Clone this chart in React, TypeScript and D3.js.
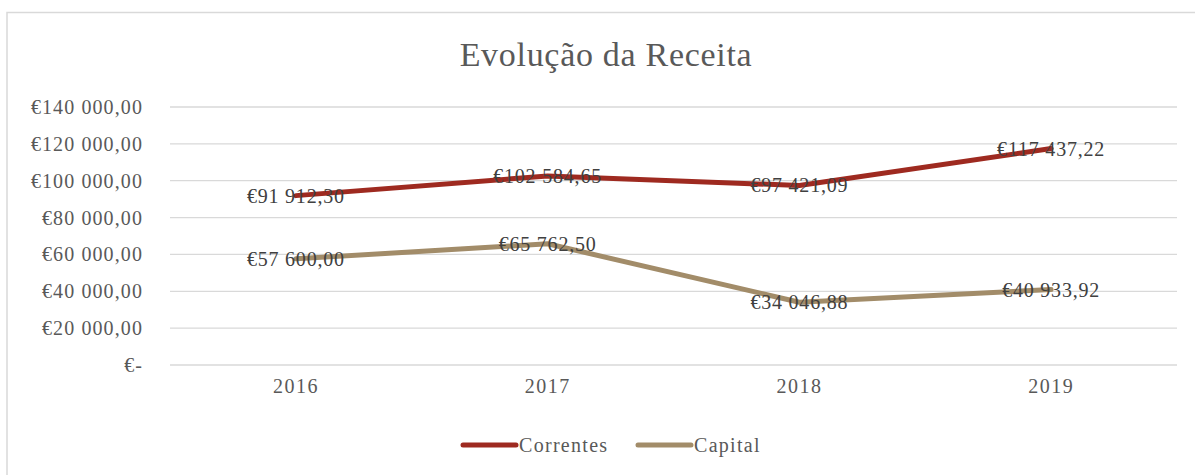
import React from "react";
import * as d3 from "d3";

const years = ["2016", "2017", "2018", "2019"];
const correntes = [91912.3, 102584.65, 97421.09, 117437.22];
const capital = [57600.0, 65762.5, 34046.88, 40933.92];
const yTicks = [0, 20000, 40000, 60000, 80000, 100000, 120000, 140000];
const seriesNames = ["Correntes", "Capital"];
const seriesColors = ["#9E2A20", "#A28C69"];

const W = 1195;
const H = 475;
const FONT = "'Liberation Serif', 'DejaVu Serif', serif";

function fmtEuro(v: number): string {
  if (v === 0) return "€-";
  const fixed = v.toFixed(2);
  const [intPart, dec] = fixed.split(".");
  const grouped = intPart.replace(/\B(?=(\d{3})+(?!\d))/g, " ");
  return `€${grouped},${dec}`;
}

export default function App() {
  const x = d3.scaleBand<string>().domain(years).range([170, 1177]);
  const y = d3.scaleLinear().domain([0, 140000]).range([365, 107]);
  const cx = (d: string) => (x(d) as number) + x.bandwidth() / 2;
  const line = d3
    .line<number>()
    .x((_, i) => cx(years[i]))
    .y((v) => y(v));
  const series = [correntes, capital];

  return (
    <svg
      width={W}
      height={H}
      style={{ position: "absolute", left: 0, top: 0, background: "#fff" }}
      fontFamily={FONT}
    >
      <rect x={0} y={0} width={W} height={H} fill="#fff" />
      <path d={`M7,${H + 5} V12.5 H${W + 5}`} fill="none" stroke="#d9d9d9" strokeWidth={1.5} />
      <text x={606} y={66} textAnchor="middle" fontSize={34} letterSpacing={0.7} fill="#595959">
        Evolução da Receita
      </text>
      {yTicks.map((t) => (
        <g key={t}>
          <line x1={170} x2={1177} y1={y(t)} y2={y(t)} stroke="#d9d9d9" strokeWidth={1.3} />
          <text
            x={143}
            y={y(t)}
            dy="0.35em"
            textAnchor="end"
            fontSize={20}
            letterSpacing={1.1}
            fill="#595959"
          >
            {fmtEuro(t)}
          </text>
        </g>
      ))}
      {years.map((yr) => (
        <text key={yr} x={cx(yr)} y={393} textAnchor="middle" fontSize={20} letterSpacing={1.5} fill="#595959">
          {yr}
        </text>
      ))}
      {series.map((s, i) => (
        <path
          key={i}
          d={line(s) as string}
          fill="none"
          stroke={seriesColors[i]}
          strokeWidth={5}
          strokeLinecap="round"
          strokeLinejoin="round"
        />
      ))}
      {series.map((s, i) =>
        s.map((v, j) => (
          <text
            key={`${i}-${j}`}
            x={cx(years[j])}
            y={y(v)}
            dy="0.35em"
            textAnchor="middle"
            fontSize={20}
            letterSpacing={0.8}
            fill="#404040"
          >
            {fmtEuro(v)}
          </text>
        ))
      )}
      {seriesNames.map((n, i) => {
        const lx = i === 0 ? 463 : 638;
        return (
          <g key={n}>
            <line
              x1={lx}
              x2={lx + 53}
              y1={445}
              y2={445}
              stroke={seriesColors[i]}
              strokeWidth={5}
              strokeLinecap="round"
            />
            <text x={lx + 56} y={445} dy="0.35em" fontSize={20} letterSpacing={1.3} fill="#595959">
              {n}
            </text>
          </g>
        );
      })}
    </svg>
  );
}
